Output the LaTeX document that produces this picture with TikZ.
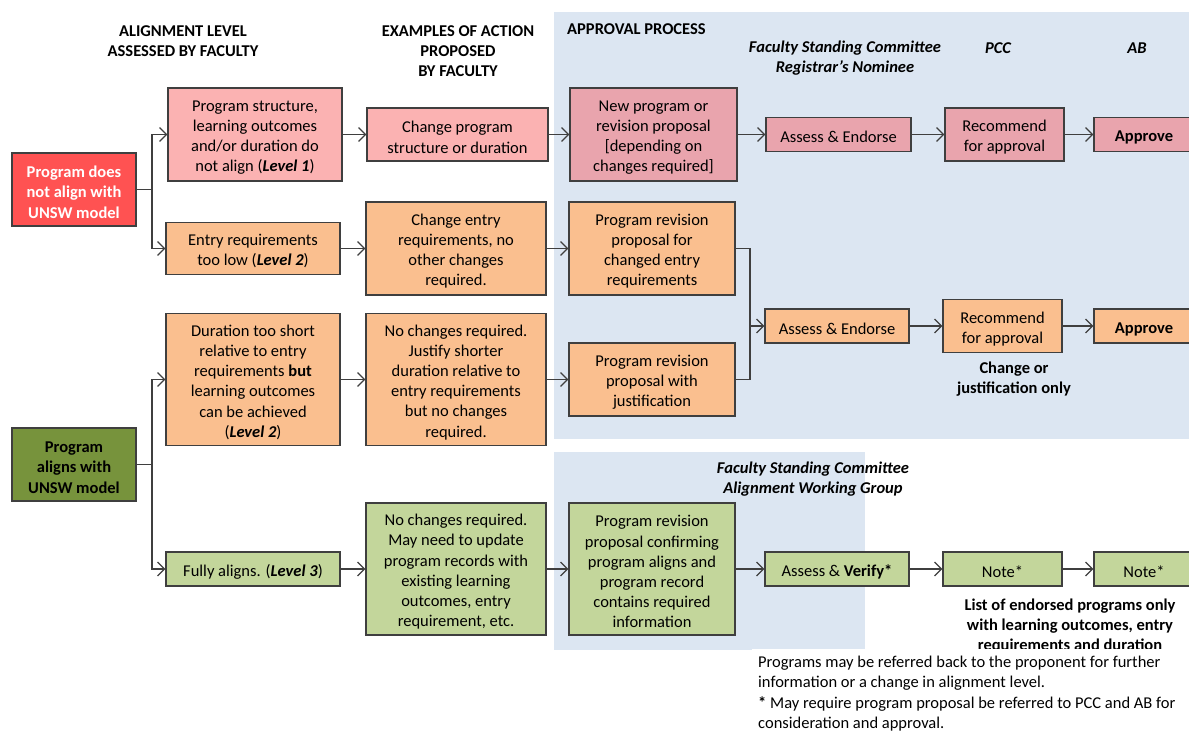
\documentclass[tikz,border=0pt]{standalone}
\usepackage{fontspec}
\setmainfont{Carlito}
\usetikzlibrary{arrows.meta}
\definecolor{bgblue}{HTML}{DCE6F2}
\definecolor{redbox}{HTML}{FF5252}
\definecolor{pinkA}{HTML}{FBB2B2}
\definecolor{pinkB}{HTML}{E9A4AD}
\definecolor{orangebox}{HTML}{FABF8F}
\definecolor{darkgreen}{HTML}{77933C}
\definecolor{lightgreen}{HTML}{C3D69B}
\definecolor{edgegray}{HTML}{3F3F3F}
\tikzset{
  box/.style={draw=edgegray, line width=1.3pt, align=center, inner sep=0pt,
    font=\fontsize{16.5}{20.2}\selectfont},
  arr/.style={draw=edgegray, line width=1.2pt,
    -{Straight Barb[length=7pt,width=14pt,line width=1.2pt]}},
  ln/.style={draw=edgegray, line width=1.2pt},
  hdr/.style={align=center, inner sep=0pt, font=\fontsize{16.5}{20.2}\selectfont\bfseries},
  hdri/.style={align=center, inner sep=0pt, font=\fontsize{16.5}{20.2}\selectfont\bfseries\itshape},
  txt/.style={align=left, inner sep=0pt, font=\fontsize{16.5}{20.2}\selectfont},
}
\newcommand{\lvl}[1]{\textbf{\textit{Level #1}}}
\newcommand{\tr}{\rule{0pt}{17pt}}
\begin{document}
\begin{tikzpicture}[x=1pt,y=-1pt]
\useasboundingbox (0,0) rectangle (1189,735);
% backgrounds
\fill[bgblue] (554,12) rectangle (1200,439);
\fill[bgblue] (554,452) rectangle (865,650);
% headers
\node[hdr] (h1) at (183,41) {ALIGNMENT LEVEL\\ASSESSED BY FACULTY};
\node[hdr] (h2) at (458,51) {EXAMPLES OF ACTION\\PROPOSED\\BY FACULTY};
\node[hdr, anchor=west] (h3) at (567,29) {APPROVAL PROCESS};
\node[hdri] (h4) at (845,58) {Faculty Standing Committee\\Registrar’s Nominee};
\node[hdri] (h5) at (998,48) {PCC};
\node[hdri] (h6) at (1137,48) {AB};
\node[hdri] (h7) at (813,479) {Faculty Standing Committee\\Alignment Working Group};
% row 1
\node[box, fill=redbox, text=white, font=\fontsize{16.5}{20.2}\selectfont\bfseries,
  minimum width=124, minimum height=73] (red) at (74,189.5) {\tr Program does\\not align with\\UNSW model};
\node[box, fill=pinkA, minimum width=174, minimum height=93] (l1) at (255,134.5)
  {\tr Program structure,\\learning outcomes\\and/or duration do\\not align (\lvl{1})};
\node[box, fill=pinkA, minimum width=181, minimum height=53] (chprog) at (457.5,134.5)
  {\tr Change program\\structure or duration};
\node[box, fill=pinkB, minimum width=167, minimum height=93] (newprog) at (653.5,134.5)
  {\tr New program or\\revision proposal\\{[}depending on\\changes required{]}};
\node[box, fill=pinkB, minimum width=145, minimum height=34] (as1) at (838.5,134.5) {\tr Assess \& Endorse};
\node[box, fill=pinkB, minimum width=119, minimum height=53] (rec1) at (1004.5,134.5) {\tr Recommend\\for approval};
\node[box, fill=pinkB, minimum width=100, minimum height=34] (ap1) at (1144,134.5) {\tr\textbf{Approve}};
% row 2
\node[box, fill=orangebox, minimum width=174, minimum height=52] (entry) at (253,248.5)
  {\tr Entry requirements\\too low (\lvl{2})};
\node[box, fill=orangebox, minimum width=180, minimum height=93] (chentry) at (456,248.5)
  {\tr Change entry\\requirements, no\\other changes\\required.};
\node[box, fill=orangebox, minimum width=166, minimum height=93] (revent) at (652,248.5)
  {\tr Program revision\\proposal for\\changed entry\\requirements};
\node[box, fill=orangebox, minimum width=144, minimum height=34] (as2) at (837,326) {\tr Assess \& Endorse};
\node[box, fill=orangebox, minimum width=119, minimum height=53] (rec2) at (1002.5,326) {\tr Recommend\\for approval};
\node[box, fill=orangebox, minimum width=100, minimum height=34] (ap2) at (1144,326) {\tr\textbf{Approve}};
\node[hdr] (cj) at (1014,379) {Change or\\justification only};
% row 3
\node[box, fill=orangebox, minimum width=174, minimum height=132] (dur) at (253,379.5)
  {\tr Duration too short\\relative to entry\\requirements \textbf{but}\\learning outcomes\\can be achieved\\(\lvl{2})};
\node[box, fill=orangebox, minimum width=180, minimum height=132] (nochg) at (456,379.5)
  {\tr No changes required.\\Justify shorter\\duration relative to\\entry requirements\\but no changes\\required.};
\node[box, fill=orangebox, minimum width=166, minimum height=73] (revjust) at (652,379.5)
  {\tr Program revision\\proposal with\\justification};
% row 4
\node[box, fill=darkgreen, font=\fontsize{16.5}{20.2}\selectfont\bfseries,
  minimum width=124, minimum height=73] (green) at (74,464.5) {\tr Program\\aligns with\\UNSW model};
\node[box, fill=lightgreen, minimum width=174, minimum height=34] (fully) at (253,569)
  {\tr Fully aligns. (\lvl{3})};
\node[box, fill=lightgreen, minimum width=180, minimum height=132] (nochg2) at (456,569)
  {\tr No changes required.\\May need to update\\program records with\\existing learning\\outcomes, entry\\requirement, etc.};
\node[box, fill=lightgreen, minimum width=166, minimum height=132] (revconf) at (652,569)
  {\tr Program revision\\proposal confirming\\program aligns and\\program record\\contains required\\information};
\node[box, fill=lightgreen, minimum width=144, minimum height=34] (ver) at (837,569) {\tr Assess \& \textbf{Verify*}};
\node[box, fill=lightgreen, minimum width=119, minimum height=34] (note1) at (1002.5,569) {\tr Note*};
\node[box, fill=lightgreen, minimum width=100, minimum height=34] (note2) at (1144,569) {\tr Note*};
\node[hdr] (list) at (1070,626) {List of endorsed programs only\\with learning outcomes, entry\\requirements and duration};
% connectors
\coordinate (s1) at (152,189.5);
\draw[ln] (red.east) -- (s1);
\draw[arr] (s1) |- (l1.west);
\draw[arr] (s1) |- (entry.west);
\draw[arr] (l1.east) -- (chprog.west);
\draw[arr] (chprog.east) -- (newprog.west);
\draw[arr] (newprog.east) -- (as1.west);
\draw[arr] (as1.east) -- (rec1.west);
\draw[arr] (rec1.east) -- (ap1.west);
\draw[arr] (entry.east) -- (chentry.west);
\draw[arr] (chentry.east) -- (revent.west);
\coordinate (m1) at (750,326);
\draw[ln] (revent.east) -| (m1);
\draw[ln] (revjust.east) -| (m1);
\draw[arr] (m1) -- (as2.west);
\draw[arr] (as2.east) -- (rec2.west);
\draw[arr] (rec2.east) -- (ap2.west);
\coordinate (s2) at (152,464.5);
\draw[ln] (green.east) -- (s2);
\draw[arr] (s2) |- (dur.west);
\draw[arr] (s2) |- (fully.west);
\draw[arr] (dur.east) -- (nochg.west);
\draw[arr] (nochg.east) -- (revjust.west);
\draw[arr] (fully.east) -- (nochg2.west);
\draw[arr] (nochg2.east) -- (revconf.west);
\draw[arr] (revconf.east) -- (ver.west);
\draw[arr] (ver.east) -- (note1.west);
\draw[arr] (note1.east) -- (note2.west);
% footnote box
\fill[white] (752,649) rectangle (1200,740);
\node[txt, anchor=north west] (foot) at (758,656)
  {Programs may be referred back to the proponent for further\\information or a change in alignment level.\\\textbf{*} May require program proposal be referred to PCC and AB for\\consideration and approval.};
\end{tikzpicture}
\end{document}
